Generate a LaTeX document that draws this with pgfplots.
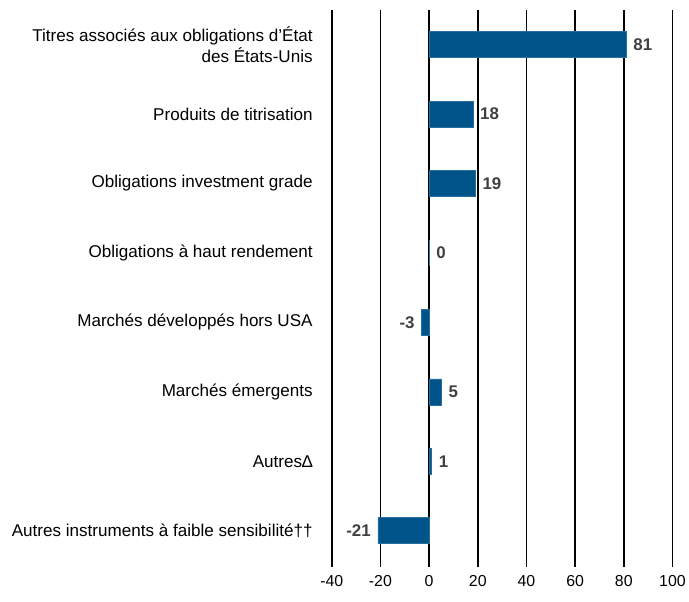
\documentclass[border=0pt]{standalone}
\usepackage{fontspec}
\setmainfont{Liberation Sans}
\usepackage{pgfplots}
\pgfplotsset{compat=1.18}
\definecolor{barblue}{HTML}{00548A}
\definecolor{lblgray}{HTML}{404040}
\begin{document}
\begin{tikzpicture}
\begin{axis}[name=a,
 xbar, bar width=26bp, bar shift=0pt,
 width=342bp, height=559bp, scale only axis,
 xmin=-40, xmax=100, ymin=-0.5, ymax=7.52, y dir=reverse,
 xtick={-40,-20,...,100}, ytick={0,...,7},
 yticklabels={{Titres associés aux obligations d’État\\des États-Unis},
  {Produits de titrisation},
  {Obligations investment grade},
  {Obligations à haut rendement},
  {Marchés développés hors USA},
  {Marchés émergents},
  {Autres∆},
  {Autres instruments à faible sensibilité††}},
 xmajorgrids, grid style={black, line width=1.6bp},
 axis line style={draw=none},
 major tick length=0pt,
 xticklabel style={font=\fontsize{16}{19}\selectfont, yshift=-5bp},
 yticklabel style={font=\fontsize{17.2}{20.5}\selectfont, align=right, anchor=east, xshift=-19bp, inner sep=0pt},
 /pgf/number format/assume math mode=true,
 nodes near coords, nodes near coords align={horizontal},
 nodes near coords style={font=\bfseries\fontsize{17}{20}\selectfont, text=lblgray, inner sep=7bp},
 point meta=x,
 clip=false,
]
\addplot[fill=barblue, draw=barblue!85!white, line width=0.6bp] coordinates {(81,0) (18,1) (19,2) (0,3) (-3,4) (5,5) (1,6) (-21,7)};
\end{axis}
\path ([shift={(-333bp,10bp)}]a.north west) rectangle ([shift={(14bp,-35bp)}]a.south east);
\end{tikzpicture}
\end{document}
